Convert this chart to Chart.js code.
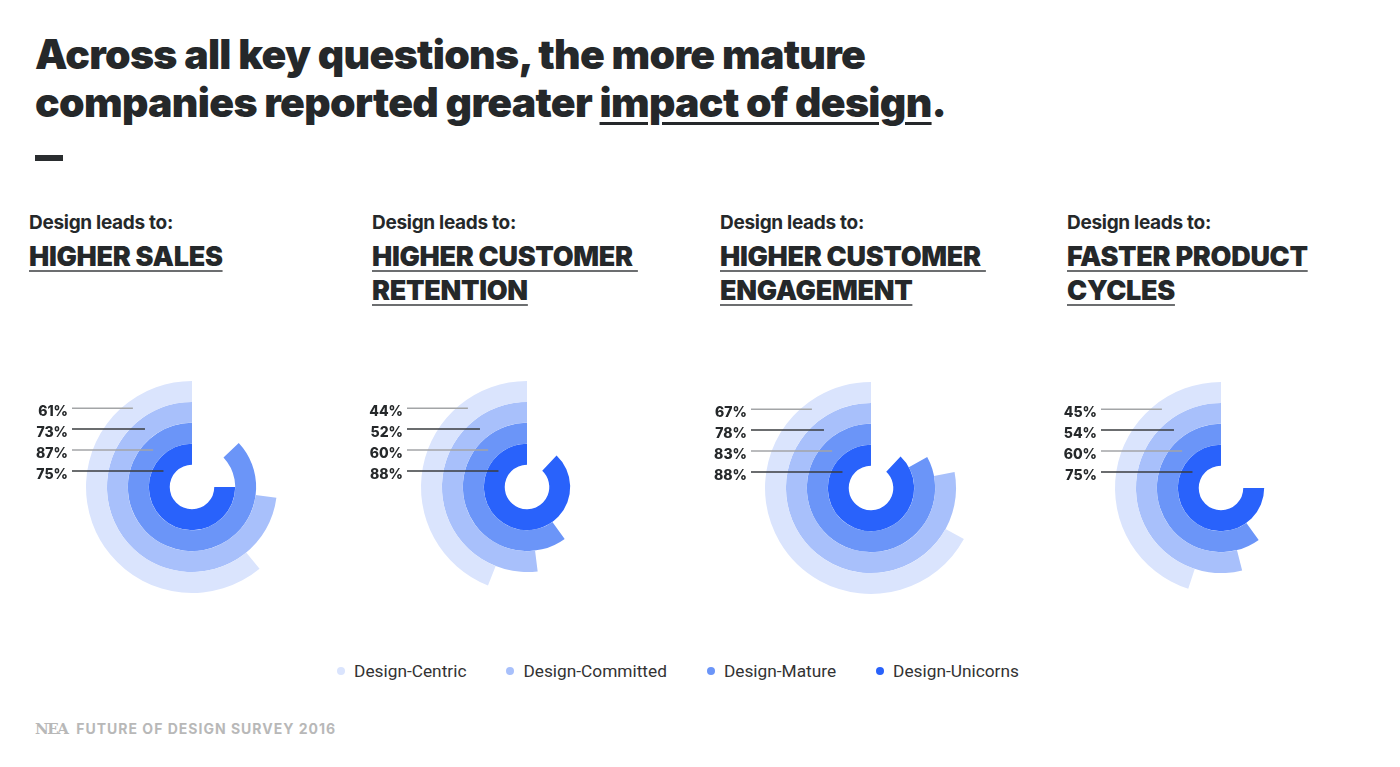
<!DOCTYPE html>
<html>
<head>
<meta charset="utf-8">
<script src="https://cdn.jsdelivr.net/npm/chart.js@4.4.1/dist/chart.umd.min.js"></script>
<style>
  body { margin: 0; width: 1400px; height: 767px; background: #fff; position: relative; overflow: hidden; font-family: Inter, "Noto Sans", sans-serif; color: #25282a; }
  #title { position: absolute; left: 35px; top: 30px; font-size: 41px; font-weight: 900; line-height: 48px; letter-spacing: -0.7px; }
  #title div { white-space: nowrap; }
  #title u { text-decoration-thickness: 3px; text-underline-offset: 5px; }
  #dash { position: absolute; left: 35px; top: 155px; width: 28px; height: 6px; background: #2a2d2f; }
  .head { position: absolute; top: 210px; }
  .lead { font-size: 19px; font-weight: 700; letter-spacing: -0.3px; line-height: 26px; }
  .topic { margin-top: 4px; font-size: 27px; font-weight: 900; line-height: 34px; letter-spacing: -0.3px; }
  .topic span { display: block; white-space: pre; text-decoration: underline; text-decoration-color: #6c6e70; text-decoration-thickness: 2px; text-underline-offset: 4px; }
  canvas { position: absolute; }
  #legend { position: absolute; top: 660px; left: 0; width: 1356px; display: flex; justify-content: center; gap: 40px; font-family: Roboto, sans-serif; font-size: 17.3px; color: #333; line-height: 22px; }
  #legend .item { display: flex; align-items: center; }
  #legend i { display: inline-block; width: 8px; height: 8px; border-radius: 50%; margin-right: 9px; }
  #footer { position: absolute; left: 35px; top: 720px; color: #b8b8b8; font-size: 14px; font-weight: 700; letter-spacing: 1px; line-height: 18px; white-space: nowrap; }
  #footer .logo { font-family: "DejaVu Serif", serif; font-weight: 700; letter-spacing: -1.5px; font-size: 15px; margin-right: 9px; }
</style>
</head>
<body>
<div id="title">
  <div>Across all key questions, the more mature</div>
  <div>companies reported greater <u>impact of design</u>.</div>
</div>
<div id="dash"></div>
<div id="legend"></div>
<div id="footer"><span class="logo">NEA</span>FUTURE OF DESIGN SURVEY 2016</div>

<script>
// groups (rings, outer to inner)
const groups = ["Design-Centric", "Design-Committed", "Design-Mature", "Design-Unicorns"];
const groupColors = ["#dae4fd", "#a8c0fb", "#6b95f8", "#2962fb"];

// panel titles
const leadText = "Design leads to:";
const topics = [
  ["HIGHER SALES"],
  ["HIGHER CUSTOMER ", "RETENTION"],
  ["HIGHER CUSTOMER ", "ENGAGEMENT"],
  ["FASTER PRODUCT", "CYCLES"]
];

// % per group
const higherSales = [61, 73, 87, 75];
const higherRetention = [44, 52, 60, 88];
const higherEngagement = [67, 78, 83, 88];
const fasterCycles = [45, 54, 60, 75];
const panelValues = [higherSales, higherRetention, higherEngagement, fasterCycles];

// layout
const headLeft = [29, 372, 720, 1067];
const centerX = [192, 527, 871, 1221];
const centerY = [487, 487, 488, 488];
const canvasW = 340, canvasH = 240;

// leader lines + percentage labels on the left
const leaderLines = {
  id: "leaderLines",
  afterDatasetsDraw(chart) {
    const ctx = chart.ctx;
    ctx.save();
    chart.data.datasets.forEach((ds, i) => {
      const arc = chart.getDatasetMeta(i).data[1];
      const thick = arc.outerRadius - arc.innerRadius;
      const dy = arc.outerRadius - thick * 1.25 - 1;
      const y = arc.y - dy;
      const rMid = (arc.outerRadius + arc.innerRadius) / 2 + (i === 0 ? 3 : 0);
      const xEnd = arc.x - Math.sqrt(rMid * rMid - dy * dy);
      ctx.beginPath();
      ctx.moveTo(arc.x - 120, y);
      ctx.lineTo(xEnd, y);
      ctx.lineWidth = 1.5;
      ctx.strokeStyle = i % 2 ? "#3a3d3f" : "#a3a5a7";
      ctx.stroke();
      ctx.font = "800 14px Inter, sans-serif";
      ctx.fillStyle = "#25282a";
      ctx.textAlign = "right";
      ctx.textBaseline = "middle";
      ctx.fillText(ds.data[1] + "%", arc.x - 124, y + 4);
    });
    ctx.restore();
  }
};

panelValues.forEach((vals, p) => {
  // header
  const head = document.createElement("div");
  head.className = "head";
  head.style.left = headLeft[p] + "px";
  head.innerHTML = '<div class="lead">' + leadText + '</div><div class="topic">' +
    topics[p].map(t => "<span>" + t + "</span>").join("") + "</div>";
  document.body.appendChild(head);

  // chart
  const canvas = document.createElement("canvas");
  canvas.width = canvasW;
  canvas.height = canvasH;
  canvas.style.left = (centerX[p] - canvasW / 2) + "px";
  canvas.style.top = (centerY[p] - canvasH / 2) + "px";
  document.body.appendChild(canvas);

  new Chart(canvas, {
    type: "doughnut",
    data: {
      labels: ["", ""],
      datasets: groups.map((g, i) => ({
        label: g,
        data: [100 - vals[i], vals[i]],
        backgroundColor: ["rgba(0,0,0,0)", groupColors[i]],
        borderWidth: 0
      }))
    },
    options: {
      responsive: false,
      animation: false,
      events: [],
      radius: 106,
      cutout: "21%",
      rotation: 0,
      plugins: { legend: { display: false }, tooltip: { enabled: false } }
    },
    plugins: [leaderLines]
  });
});

// legend
document.getElementById("legend").innerHTML = groups.map((g, i) =>
  '<span class="item"><i style="background:' + groupColors[i] + '"></i>' + g + "</span>"
).join("");
</script>
</body>
</html>
